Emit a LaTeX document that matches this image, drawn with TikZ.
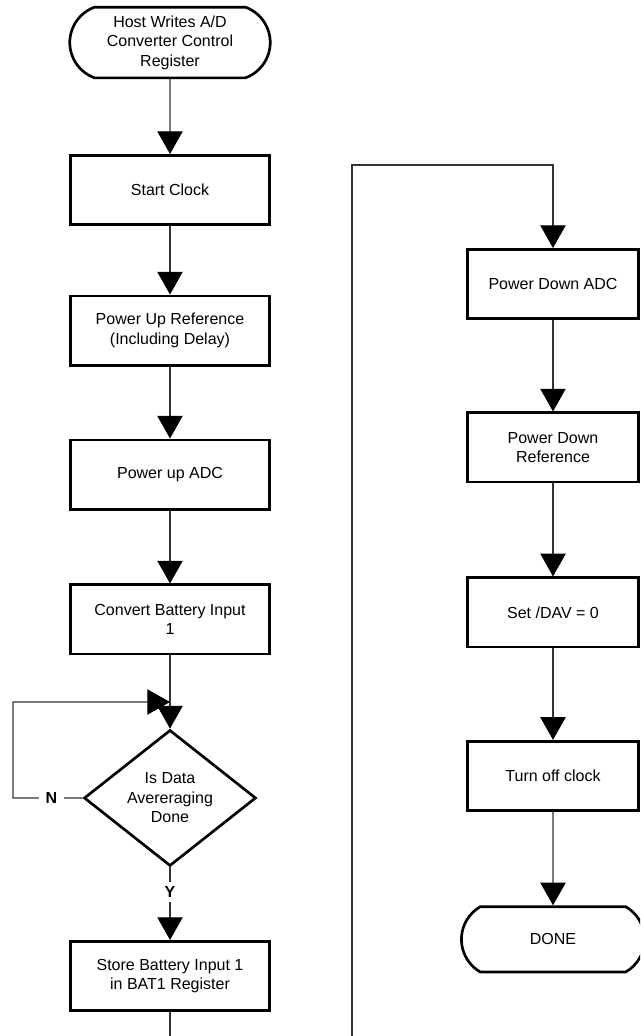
\documentclass[tikz,border=0pt]{standalone}
\usepackage{fontspec}
\setmainfont{Liberation Sans}
\usepackage{tikz}
\usetikzlibrary{shapes,arrows.meta,positioning}

\begin{document}
\begin{tikzpicture}[x=0.75pt, y=-0.75pt,
  font=\fontsize{12}{14.6}\selectfont,
  box/.style={draw, rectangle, line width=2pt, align=center, minimum height=52pt},
  lbox/.style={box, minimum width=149pt},
  rbox/.style={box, minimum width=128pt},
  term/.style={draw, rounded rectangle, line width=2pt, align=center},
  dec/.style={draw, diamond, line width=2pt, align=center, inner sep=0pt, minimum width=129pt, minimum height=75pt},
  flow/.style={draw=black!80, line width=0.8pt, -{Triangle[width=19pt, length=17pt, color=black]}},
  yn/.style={fill=white, font=\fontsize{12}{14}\selectfont\bfseries, inner xsep=5pt}]
\clip (0,0) rectangle (640,1036);
\fill[white] (0,0) rectangle (640,1036);

% left column
\node[term, rounded rectangle arc length=140, minimum width=157pt, minimum height=53pt] (host) at (170,42.5) {Host Writes A/D\\Converter Control\\Register};
\node[lbox, below of=host, node distance=110.6pt] (start) {Start Clock};
\node[lbox, below of=start, node distance=105.4pt] (pur) {Power Up Reference\\(Including Delay)};
\node[lbox, below of=pur, node distance=108pt] (puadc) {Power up ADC};
\node[lbox, below of=puadc, node distance=108.7pt] (conv) {Convert Battery Input\\1};
\node[dec, below of=conv, node distance=133.9pt] (avg) {Is Data\\Avereraging\\Done};
\node[lbox, below of=avg, node distance=133.5pt] (store) {Store Battery Input 1\\in BAT1 Register};

% right column
\node[rbox] (pdadc) at (553,284) {Power Down ADC};
\node[rbox, below of=pdadc, node distance=122.6pt] (pdref) {Power Down\\Reference};
\node[rbox, below of=pdref, node distance=123.7pt] (dav) {Set /DAV = 0};
\node[rbox, below of=dav, node distance=122.6pt] (toff) {Turn off clock};
\node[term, rounded rectangle arc length=120, below of=toff, node distance=122.6pt, minimum width=144pt, minimum height=49pt] (done) {DONE};

\coordinate (join) at (170,702);
\coordinate (loop) at (13,798);
\coordinate (c1) at (170,1080);
\coordinate (c2) at (352,1080);
\coordinate (c3) at (352,165);

\draw[flow] (host) -- (start);
\draw[flow] (start) -- (pur);
\draw[flow] (pur) -- (puadc);
\draw[flow] (puadc) -- (conv);
\draw[flow] (conv) -- (avg);
\draw[flow] (avg.west) -- node[yn, pos=0.45] {N} (loop) |- (join);
\draw[flow] (avg) -- node[yn, pos=0.34] {Y} (store);
\draw[flow] (store) -- (c1) -- (c2) -- (c3) -| (pdadc);
\draw[flow] (pdadc) -- (pdref);
\draw[flow] (pdref) -- (dav);
\draw[flow] (dav) -- (toff);
\draw[flow] (toff) -- (done);
\end{tikzpicture}
\end{document}
